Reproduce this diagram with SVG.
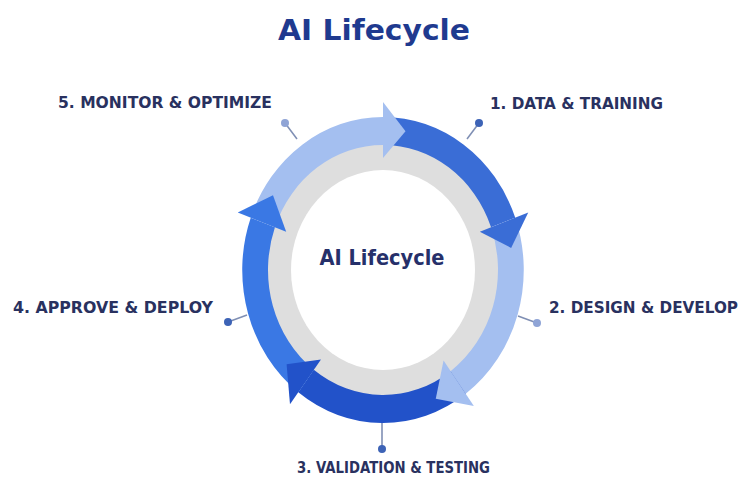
<svg xmlns="http://www.w3.org/2000/svg" width="745" height="486" viewBox="0 0 745 486">
<style>
.lbl{font-family:"DejaVu Sans","Liberation Sans",sans-serif;font-weight:bold;font-size:15.5px;fill:#29315f}
.title{font-family:"DejaVu Sans","Liberation Sans",sans-serif;font-weight:bold;font-size:29px;fill:#1f3a8f}
.center{font-family:"DejaVu Sans","Liberation Sans",sans-serif;font-weight:bold;font-size:22px;fill:#26306a}
.lead{stroke:#7f8fb4;stroke-width:1.6;fill:none}
.dot{fill:#3d63b6}
.light{fill:#a4bff0}
</style>
<rect width="745" height="486" fill="#ffffff"/>
<g id="title"><text class="title" x="374" y="40" text-anchor="middle" textLength="192" lengthAdjust="spacingAndGlyphs">AI Lifecycle</text></g>
<g id="cycle" transform="translate(383,270) scale(0.92,1)">
<circle r="128" fill="#dedede"/>
<circle r="100" fill="#ffffff"/>
<path fill="#3a6dd6" d="M0,-153 A153,153 0 0 1 143.77,-52.33 L117.46,-42.75 A125,125 0 0 0 0,-125 Z"/>
<path class="light" d="M143.77,-52.33 A153,153 0 0 1 89.93,123.78 L73.47,101.13 A125,125 0 0 0 117.46,-42.75 Z"/>
<path fill="#2252c9" d="M89.93,123.78 A153,153 0 0 1 -92.08,122.19 L-75.23,99.83 A125,125 0 0 0 73.47,101.13 Z"/>
<path fill="#3a78e4" d="M-92.08,122.19 A153,153 0 0 1 -143.77,-52.33 L-117.46,-42.75 A125,125 0 0 0 -75.23,99.83 Z"/>
<path class="light" d="M-143.77,-52.33 A153,153 0 0 1 0,-153 L0,-125 A125,125 0 0 0 -117.46,-42.75 Z"/>
<polygon fill="#3a6dd6" points="105.25,-38.30 157.87,-57.46 139.27,-22.05"/>
<polygon class="light" points="65.83,90.61 98.75,135.91 57.34,128.80"/>
<polygon fill="#2252c9" points="-67.40,89.44 -101.10,134.16 -104.78,94.34"/>
<polygon fill="#3a78e4" points="-105.25,-38.30 -157.87,-57.46 -119.57,-74.72"/>
<polygon class="light" points="0,-112 0,-168 24.48,-138.86"/>
</g>
<g id="center-label"><text class="center" x="382" y="265" text-anchor="middle" textLength="125" lengthAdjust="spacingAndGlyphs">AI Lifecycle</text></g>
<g id="connectors">
<line class="lead" x1="297" y1="139" x2="285" y2="123"/>
<line class="lead" x1="467" y1="139" x2="479" y2="123"/>
<line class="lead" x1="518" y1="316" x2="537" y2="323"/>
<line class="lead" x1="382" y1="423" x2="382" y2="449"/>
<line class="lead" x1="247" y1="315" x2="228" y2="322"/>
<circle cx="285" cy="123" r="4" fill="#8fa4d6"/>
<circle class="dot" cx="479" cy="123" r="4"/>
<circle cx="537" cy="323" r="4" fill="#8fa4d6"/>
<circle class="dot" cx="382" cy="449" r="4"/>
<circle class="dot" cx="228" cy="322" r="4"/>
</g>
<g id="step1"><text class="lbl" x="490" y="109" textLength="173" lengthAdjust="spacingAndGlyphs">1. DATA &amp; TRAINING</text></g>
<g id="step2"><text class="lbl" x="549" y="313" textLength="189" lengthAdjust="spacingAndGlyphs">2. DESIGN &amp; DEVELOP</text></g>
<g id="step3"><text class="lbl" x="297" y="473" textLength="193" lengthAdjust="spacingAndGlyphs">3. VALIDATION &amp; TESTING</text></g>
<g id="step4"><text class="lbl" x="13" y="313" textLength="200" lengthAdjust="spacingAndGlyphs">4. APPROVE &amp; DEPLOY</text></g>
<g id="step5"><text class="lbl" x="58" y="108" textLength="214" lengthAdjust="spacingAndGlyphs">5. MONITOR &amp; OPTIMIZE</text></g>
</svg>
